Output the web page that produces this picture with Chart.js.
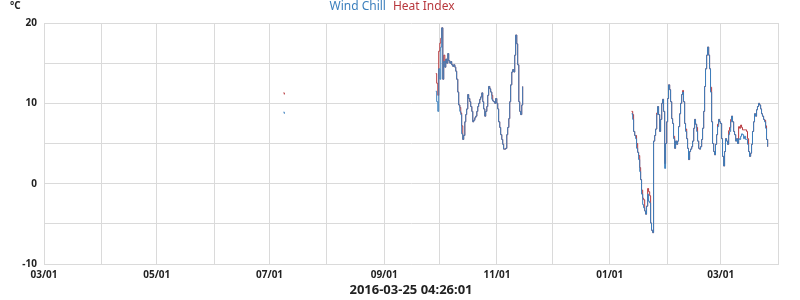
<!DOCTYPE html>
<html>
<head>
<meta charset="utf-8">
<script src="https://cdn.jsdelivr.net/npm/chart.js@4/dist/chart.umd.min.js"></script>
<style>
  html, body { margin: 0; padding: 0; background: #fff; }
  #wrap { width: 800px; height: 300px; }
</style>
</head>
<body>
<div id="wrap"><canvas id="chart" width="800" height="300"></canvas></div>
<script>
// days counted from 2015-03-01
const monthDays = [0, 31, 61, 92, 122, 153, 184, 214, 245, 275, 306, 337, 366, 397];
const monthLabels = ['03/01', '', '05/01', '', '07/01', '', '09/01', '', '11/01', '', '01/01', '', '03/01', ''];
const yTicks = [-10, 0, 10, 20];

const julyDays = [129.5, 130.0];
const julyWind = [8.9, 8.7];
const julyHeat = [11.3, 11.1];

const autumnDays = [
  211.9, 212.4, 213.0, 213.5, 214.1, 214.6, 215.1, 215.7, 216.2, 216.8, 217.3, 217.8, 218.4, 218.9, 219.5,
  220.0, 220.5, 221.1, 221.6, 222.2, 222.7, 223.2, 223.8, 224.3, 224.9, 225.4, 225.9, 226.5, 227.0, 227.6,
  228.1, 228.6, 229.2, 229.7, 230.3, 230.8, 231.4, 231.9, 232.4, 233.0, 233.5, 234.1, 234.6, 235.1, 235.7,
  236.2, 236.8, 237.3, 237.8, 238.4, 238.9, 239.5, 240.0, 240.5, 241.1, 241.6, 242.2, 242.7, 243.2, 243.8,
  244.3, 244.9, 245.4, 245.9, 246.5, 247.0, 247.6, 248.1, 248.6, 249.2, 249.7, 250.3, 250.8, 251.4, 251.9,
  252.4, 253.0, 253.5, 254.1, 254.6, 255.1, 255.7, 256.2, 256.8, 257.3, 257.8, 258.4, 258.9
];
const autumnWind = [
  11.5, 10.2, 9.0, 14.3, 13.0, 17.0, 19.4, 13.0, 15.2, 14.5, 15.5, 15.0, 16.2, 15.3, 15.0,
  15.2, 14.8, 14.6, 14.8, 14.5, 14.0, 13.0, 11.4, 9.8, 9.0, 8.6, 6.2, 5.5, 6.0, 7.7,
  8.6, 9.3, 11.1, 10.6, 10.2, 9.6, 9.0, 7.7, 7.9, 8.2, 8.4, 9.0, 9.6, 10.0, 10.5,
  10.8, 11.3, 10.2, 9.3, 8.4, 9.0, 9.6, 11.0, 12.1, 11.8, 11.4, 10.5, 10.3, 10.2, 10.0,
  10.6, 10.0, 9.3, 7.7, 7.0, 6.1, 5.5, 4.9, 4.3, 4.3, 4.4, 6.1, 7.0, 8.1, 10.2,
  12.3, 13.9, 14.2, 13.9, 16.0, 18.5, 17.4, 14.8, 10.2, 9.0, 8.6, 9.8, 12.1
];
const autumnHeat = [
  13.7, 12.5, 11.0, 16.5, 17.5, 18.1, 19.4, 13.0, 16.0, 14.5, 15.5, 15.0, 16.2, 15.3, 15.0,
  15.2, 14.8, 14.6, 14.8, 14.5, 14.0, 13.0, 11.4, 9.8, 9.5, 8.8, 7.2, 5.5, 6.0, 7.7,
  8.6, 9.3, 11.1, 10.6, 10.2, 9.6, 9.0, 7.7, 7.9, 8.2, 8.4, 9.0, 9.6, 10.0, 10.5,
  10.8, 11.3, 10.2, 9.3, 8.4, 9.0, 9.6, 11.0, 12.1, 11.8, 11.4, 11.0, 10.3, 10.2, 10.0,
  10.6, 10.0, 9.3, 7.7, 7.0, 6.1, 5.5, 4.9, 4.3, 4.3, 4.4, 6.1, 7.0, 8.1, 10.2,
  12.3, 13.9, 14.2, 13.9, 16.0, 18.5, 17.4, 14.8, 10.2, 9.0, 8.6, 9.8, 12.1
];

const winterDays = [
  317.8, 318.4, 318.9, 319.5, 320.0, 320.5, 321.1, 321.6, 322.2, 322.7, 323.2, 323.8, 324.3, 324.9, 325.4,
  325.9, 326.5, 327.0, 327.6, 328.1, 328.6, 329.2, 329.7, 330.3, 330.8, 331.4, 331.9, 332.4, 333.0, 333.5,
  334.1, 334.6, 335.1, 335.7, 336.2, 336.8, 337.3, 337.8, 338.4, 338.9, 339.5, 340.0, 340.5, 341.1, 341.6,
  342.2, 342.7, 343.2, 343.8, 344.3, 344.9, 345.4, 345.9, 346.5, 347.0, 347.6, 348.1, 348.6, 349.2, 349.7,
  350.3, 350.8, 351.4, 351.9, 352.4, 353.0, 353.5, 354.1, 354.6, 355.1, 355.7, 356.2, 356.8, 357.3, 357.8,
  358.4, 358.9, 359.5, 360.0, 360.5, 361.1, 361.6, 362.2, 362.7, 363.2, 363.8, 364.3, 364.9, 365.4, 365.9,
  366.5, 367.0, 367.6, 368.1, 368.6, 369.2, 369.7, 370.3, 370.8, 371.4, 371.9, 372.4, 373.0, 373.5, 374.1,
  374.6, 375.1, 375.7, 376.2, 376.8, 377.3, 377.8, 378.4, 378.9, 379.5, 380.0, 380.5, 381.1, 381.6, 382.2,
  382.7, 383.2, 383.8, 384.3, 384.9, 385.4, 385.9, 386.5, 387.0, 387.6, 388.1, 388.6, 389.2, 389.7, 390.3,
  390.8, 391.4
];
const winterWind = [
  8.7, 8.0, 6.5, 6.0, 5.6, 4.4, 3.9, 3.0, 1.5, 0.5, -1.3, -2.6, -3.0, -3.4, -3.8,
  -2.8, -1.3, -2.2, -2.4, -4.9, -5.8, -6.1, 5.3, 6.0, 6.8, 8.6, 9.6, 8.6, 6.5, 8.0,
  10.0, 10.5, 9.0, 1.9, 5.0, 7.7, 10.6, 12.3, 11.7, 10.2, 8.1, 7.5, 5.6, 4.4, 5.3,
  4.9, 5.3, 7.1, 8.7, 10.0, 11.1, 11.4, 10.2, 7.5, 6.5, 5.6, 4.4, 3.0, 4.0, 4.3,
  4.6, 5.3, 6.9, 8.0, 7.4, 6.5, 5.3, 4.4, 4.3, 4.6, 5.5, 6.9, 9.0, 12.1, 14.3,
  16.0, 17.0, 16.0, 14.3, 11.4, 7.7, 5.0, 4.0, 3.6, 4.9, 6.1, 7.1, 8.0, 7.7, 7.5,
  5.6, 3.4, 2.2, 4.0, 5.6, 5.3, 4.9, 6.1, 6.5, 7.7, 8.4, 7.7, 6.5, 6.1, 5.3,
  5.6, 5.0, 5.6, 5.5, 5.9, 6.2, 6.1, 5.6, 5.9, 5.5, 5.5, 4.9, 4.0, 3.4, 3.8,
  4.9, 6.5, 7.7, 8.7, 8.4, 9.2, 9.6, 10.0, 9.8, 9.3, 8.7, 8.4, 8.0, 7.7, 6.9,
  5.5, 4.6
];
const winterHeat = [
  9.0, 8.6, 6.5, 6.0, 6.0, 5.0, 3.9, 3.5, 2.0, 0.5, -0.8, -1.8, -2.0, -3.4, -3.8,
  -2.8, -0.6, -1.0, -1.5, -4.9, -5.8, -6.1, 5.3, 6.0, 6.8, 8.8, 9.6, 8.6, 6.5, 8.0,
  10.0, 10.5, 9.0, 2.5, 5.0, 7.7, 10.6, 12.3, 11.7, 10.2, 8.1, 7.5, 5.9, 4.4, 5.3,
  4.9, 5.3, 7.1, 8.7, 10.0, 11.1, 11.6, 10.2, 7.5, 6.8, 5.6, 4.4, 3.0, 4.0, 4.3,
  4.6, 5.3, 6.9, 8.0, 7.4, 7.0, 5.3, 4.4, 4.3, 4.6, 5.5, 6.9, 9.0, 12.1, 14.3,
  16.0, 17.0, 16.0, 14.3, 12.0, 7.7, 5.0, 4.0, 3.6, 4.9, 6.1, 7.4, 8.0, 7.7, 7.5,
  5.6, 3.4, 2.2, 4.0, 5.6, 5.3, 4.9, 6.6, 7.0, 8.0, 8.4, 7.7, 6.5, 6.1, 5.3,
  5.6, 5.0, 7.1, 6.9, 7.3, 7.0, 6.7, 6.7, 6.7, 6.7, 6.5, 5.6, 4.0, 3.4, 3.8,
  4.9, 6.5, 7.7, 8.7, 8.4, 9.2, 9.6, 10.0, 9.8, 9.3, 8.7, 8.4, 8.0, 7.9, 7.2,
  5.5, 4.6
];

const stamp = '2016-03-25 04:26:01';
const blue = '#3b7fbd';
const red = '#b8383d';

function points(segs) {
  const out = [];
  segs.forEach((s, i) => {
    if (i > 0) out.push({ x: (s[0][0] + out[out.length - 1].x) / 2, y: null });
    s[0].forEach((d, j) => out.push({ x: d, y: s[1][j] }));
  });
  return out;
}

const windData = points([[julyDays, julyWind], [autumnDays, autumnWind], [winterDays, winterWind]]);
const heatData = points([[julyDays, julyHeat], [autumnDays, autumnHeat], [winterDays, winterHeat]]);

const unitLabel = {
  id: 'unitLabel',
  afterDraw(chart) {
    const ctx = chart.ctx;
    ctx.save();
    ctx.font = 'bold 10px "Noto Sans"';
    ctx.fillStyle = '#222';
    ctx.textBaseline = 'middle';
    ctx.fillText('°C', 10, 6);
    ctx.restore();
  }
};

new Chart(document.getElementById('chart'), {
  type: 'line',
  data: {
    datasets: [
      { label: 'Wind Chill', data: windData, borderColor: blue, borderWidth: 1, pointRadius: 0, stepped: true, spanGaps: false },
      { label: 'Heat Index', data: heatData, borderColor: red, borderWidth: 1, pointRadius: 0, stepped: true, spanGaps: false }
    ]
  },
  options: {
    responsive: false,
    animation: false,
    layout: { padding: { top: 0, right: 22, bottom: 0, left: 0 } },
    plugins: {
      tooltip: { enabled: false },
      legend: {
        position: 'top',
        labels: {
          boxWidth: 0,
          boxHeight: 0,
          padding: 1,
          font: { family: 'Noto Sans', size: 12 },
          generateLabels: chart => chart.data.datasets.map((ds, i) => ({
            text: ds.label, fontColor: ds.borderColor, fillStyle: 'transparent',
            strokeStyle: 'transparent', lineWidth: 0, datasetIndex: i
          }))
        }
      }
    },
    scales: {
      x: {
        type: 'linear',
        min: monthDays[0],
        max: monthDays[monthDays.length - 1],
        afterBuildTicks: s => { s.ticks = monthDays.map(v => ({ value: v })); },
        afterFit: s => { s.height = 36; },
        grid: { color: '#dadada', drawTicks: false },
        border: { color: '#dadada' },
        ticks: {
          autoSkip: false, maxRotation: 0, padding: 5,
          color: '#222', font: { family: 'Noto Sans', size: 10, weight: 'bold' },
          callback: (v, i) => monthLabels[i]
        },
        title: { display: true, text: stamp, color: '#222', padding: { top: 0, bottom: 2 }, font: { family: 'Noto Sans', size: 13, weight: 'bold' } }
      },
      y: {
        min: yTicks[0],
        max: yTicks[yTicks.length - 1],
        afterFit: s => { s.width = 44; },
        grid: { color: '#dadada', drawTicks: false },
        border: { color: '#dadada' },
        ticks: {
          stepSize: 5, padding: 7,
          color: '#222', font: { family: 'Noto Sans', size: 10, weight: 'bold' },
          callback: v => (yTicks.includes(v) ? String(v) : '')
        }
      }
    }
  },
  plugins: [unitLabel]
});
</script>
</body>
</html>
